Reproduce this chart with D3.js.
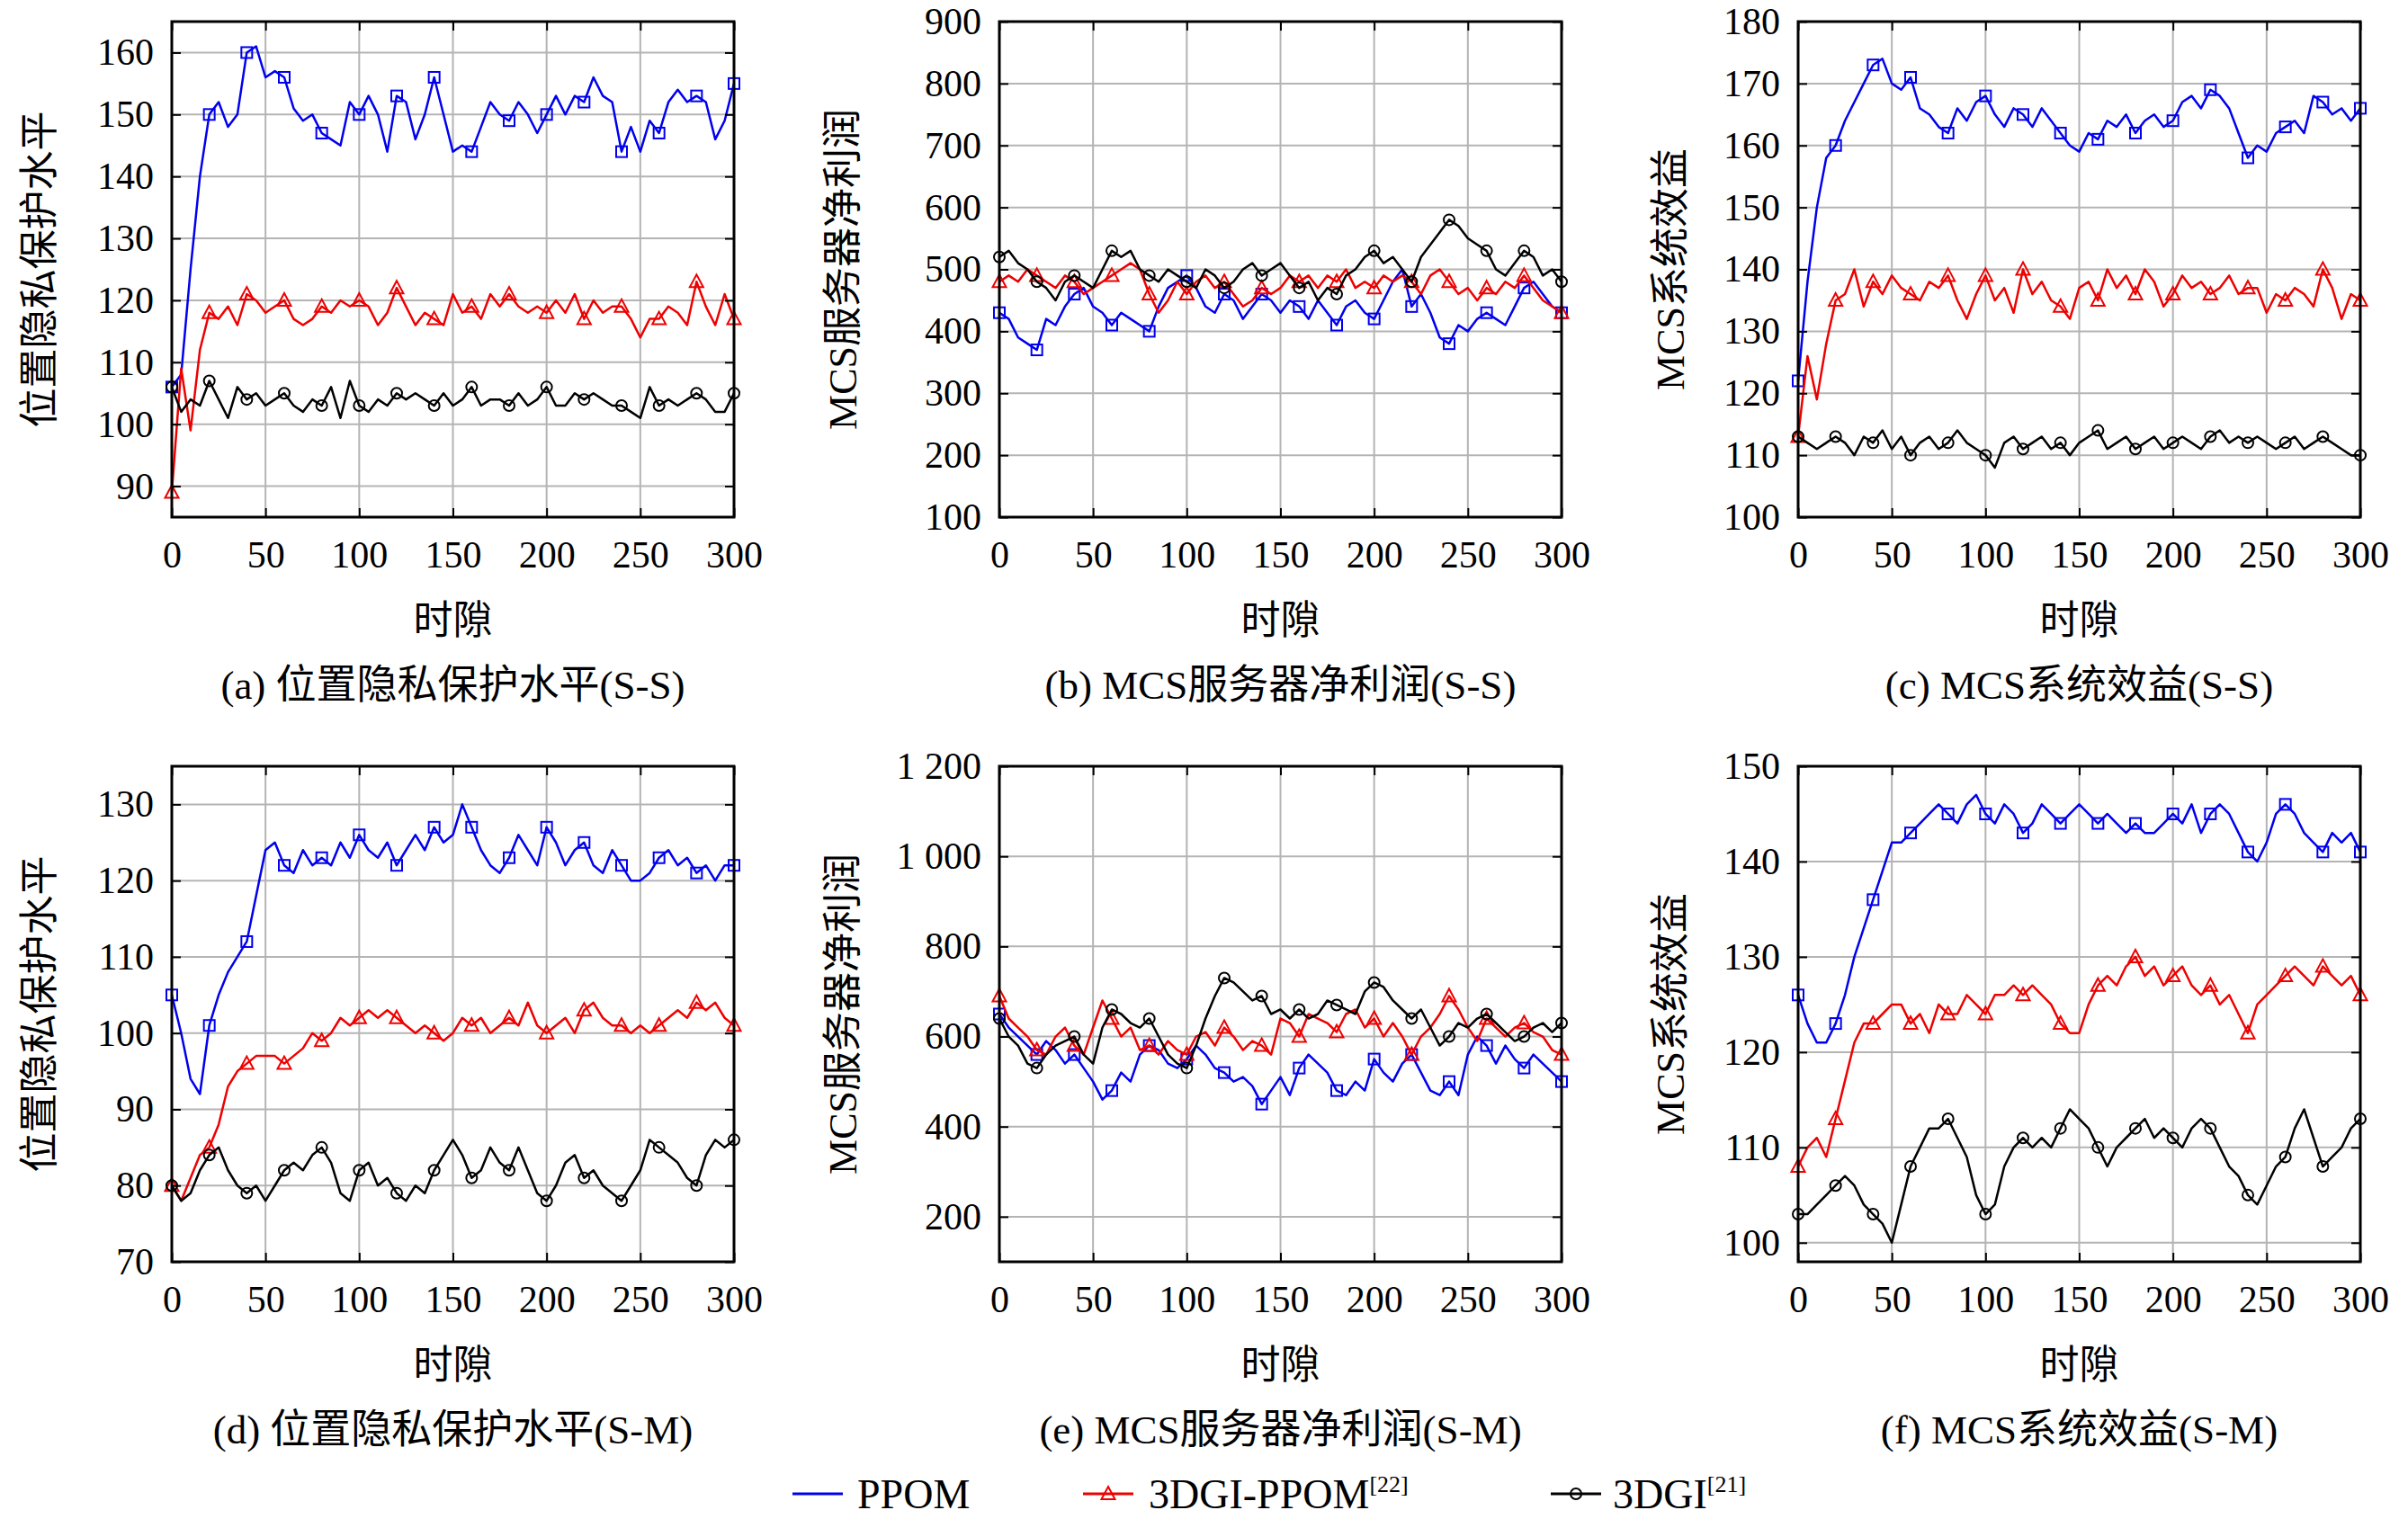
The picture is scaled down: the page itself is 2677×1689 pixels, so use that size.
<!DOCTYPE html>
<html><head><meta charset="utf-8">
<script src="https://cdn.jsdelivr.net/npm/d3@7"></script>
<style>body{margin:0;background:#fff}text{font-family:"Liberation Serif","Noto Sans CJK SC",serif;fill:#000}</style>
</head><body><div id="chart"></div>
<script>
// time slots sampled every 5
const slots = d3.range(0, 301, 5)

const aBlue = [106,108,125,140,150,152,148,150,160,161,156,157,156,151,149,150,147,146,145,152,150,153,150,144,153,152,146,150,156,150,144,145,144,148,152,150,149,152,150,147,150,153,150,153,152,156,153,152,144,148,144,149,147,152,154,152,153,152,146,149,155]
const aRed = [89,109,99,112,118,117,119,116,121,120,118,119,120,117,116,117,119,118,120,119,120,119,116,118,122,119,116,118,117,116,121,118,119,117,121,119,121,119,118,119,118,120,118,121,117,120,118,119,119,117,114,117,117,119,118,116,123,119,116,121,117]
const aBlack = [106,102,104,103,107,104,101,106,104,105,103,104,105,103,102,104,103,106,101,107,103,102,104,103,105,104,105,104,103,105,103,104,106,103,104,104,103,105,103,104,106,103,103,105,104,105,104,103,103,102,101,106,103,104,103,104,105,104,102,102,105]

const bBlue = [430,420,390,380,370,420,410,440,460,470,440,430,410,430,420,410,400,440,470,480,490,470,440,430,460,450,420,440,460,450,430,450,440,420,450,430,410,440,450,430,420,450,480,500,440,460,430,390,380,410,400,420,430,420,410,440,470,480,460,440,430]
const bRed = [480,490,480,500,490,480,470,490,480,460,470,480,490,500,510,500,460,430,450,480,460,480,490,470,480,460,440,450,470,460,470,490,480,490,470,490,480,500,470,480,470,490,480,490,480,460,490,500,480,460,470,450,470,460,480,470,490,470,450,440,430]
const bBlack = [520,530,510,500,480,470,450,480,490,480,470,500,530,520,530,500,490,480,500,490,480,470,500,490,470,480,500,510,490,500,510,490,470,480,450,470,460,490,500,520,530,510,520,500,480,520,540,560,580,570,550,540,530,500,490,510,530,520,490,500,480]

const cBlue = [122,138,150,158,160,164,167,170,173,174,170,169,171,166,165,163,162,166,164,167,168,165,163,166,165,163,166,164,162,160,159,162,161,164,163,165,162,164,165,163,164,167,168,166,169,168,166,162,158,160,159,162,163,164,162,168,167,165,166,164,166]
const cRed = [113,126,119,128,135,136,140,134,138,136,139,137,136,135,138,137,139,135,132,136,139,135,137,133,140,136,138,135,134,132,137,138,135,140,137,139,136,140,138,134,136,139,137,138,136,137,139,136,137,137,133,136,135,137,136,134,140,137,132,136,135]
const cBlack = [113,112,111,112,113,112,110,113,112,114,111,113,110,112,113,111,112,114,112,111,110,108,112,113,111,112,113,111,112,110,112,113,114,111,112,113,111,112,113,111,112,113,112,111,113,114,112,113,112,113,112,111,112,113,111,112,113,112,111,110,110]

const dBlue = [105,100,94,92,101,105,108,110,112,118,124,125,122,121,124,122,123,122,125,123,126,124,123,125,122,124,126,124,127,125,126,130,127,124,122,121,123,126,124,122,127,125,122,124,125,122,121,124,122,120,120,121,123,124,122,123,121,122,120,122,122]
const dRed = [80,78,81,84,85,88,93,95,96,97,97,97,96,97,98,100,99,100,102,101,102,103,102,103,102,101,100,101,100,99,100,102,101,102,100,101,102,101,104,101,100,101,102,100,103,104,102,101,101,100,101,100,101,102,103,102,104,103,104,102,101]
const dBlack = [80,78,79,82,84,85,82,80,79,80,78,80,82,83,82,84,85,83,79,78,82,83,80,81,79,78,80,79,82,84,86,84,81,82,85,83,82,85,82,79,78,80,83,84,81,82,80,79,78,80,82,86,85,84,83,81,80,84,86,85,86]

const eBlue = [650,620,600,580,560,590,570,540,560,530,500,460,480,520,500,560,580,570,540,530,550,580,560,530,520,500,510,490,450,480,510,470,530,560,540,520,480,470,500,480,550,520,500,540,560,520,480,470,500,470,560,600,580,540,580,550,530,560,540,520,500]
const eRed = [690,640,620,600,570,560,600,620,580,560,620,680,640,600,620,570,580,560,590,570,560,600,610,580,620,600,570,590,580,560,640,630,600,650,640,630,610,650,660,620,640,600,630,600,560,600,620,650,690,660,620,590,640,620,600,620,630,610,600,570,560]
const eBlack = [640,600,580,540,530,560,580,590,600,560,540,620,660,650,630,620,640,600,560,540,530,580,640,690,730,720,700,680,690,650,660,640,660,640,650,680,670,660,650,700,720,710,680,660,640,660,620,580,600,630,620,640,650,630,610,590,600,620,630,610,630]

const fBlue = [126,123,121,121,123,126,130,133,136,139,142,142,143,144,145,146,145,144,146,147,145,144,146,145,143,144,146,145,144,145,146,145,144,145,144,143,144,143,143,144,145,144,146,143,145,146,145,143,141,140,142,145,146,145,143,142,141,143,142,143,141]
const fRed = [108,110,111,109,113,117,121,123,123,124,125,125,123,124,122,125,124,124,126,125,124,126,126,127,126,127,126,125,123,122,122,125,127,128,127,129,130,128,129,127,128,129,127,126,127,125,126,124,122,125,126,127,128,129,128,127,129,128,127,128,126]
const fBlack = [103,103,104,105,106,107,106,104,103,102,100,104,108,110,112,112,113,111,109,105,103,104,108,110,111,110,111,110,112,114,113,112,110,108,110,111,112,113,111,112,111,110,112,113,112,110,108,107,105,104,106,108,109,112,114,111,108,109,110,112,113]

const xTicks = [0,50,100,150,200,250,300]
const markerSlots = d3.range(0, 301, 20)
const seriesNames = ['PPOM', '3DGI-PPOM', '3DGI']
const seriesRefs = ['', '[22]', '[21]']
const colors = ['#0000ee', '#ee0000', '#000000']

const panels = [
  {id:'a', ylab:'位置隐私保护水平', cap:'(a) 位置隐私保护水平(S-S)', dom:[85,165], ticks:d3.range(90,161,10), data:[aBlue,aRed,aBlack], col:0, row:0},
  {id:'b', ylab:'MCS服务器净利润', cap:'(b) MCS服务器净利润(S-S)', dom:[100,900], ticks:d3.range(100,901,100), data:[bBlue,bRed,bBlack], col:1, row:0},
  {id:'c', ylab:'MCS系统效益', cap:'(c) MCS系统效益(S-S)', dom:[100,180], ticks:d3.range(100,181,10), data:[cBlue,cRed,cBlack], col:2, row:0},
  {id:'d', ylab:'位置隐私保护水平', cap:'(d) 位置隐私保护水平(S-M)', dom:[70,135], ticks:d3.range(70,131,10), data:[dBlue,dRed,dBlack], col:0, row:1},
  {id:'e', ylab:'MCS服务器净利润', cap:'(e) MCS服务器净利润(S-M)', dom:[100,1200], ticks:d3.range(200,1201,200), data:[eBlue,eRed,eBlack], col:1, row:1},
  {id:'f', ylab:'MCS系统效益', cap:'(f) MCS系统效益(S-M)', dom:[98,150], ticks:d3.range(100,151,10), data:[fBlue,fRed,fBlack], col:2, row:1}
]

const W = 2677, H = 1689
const colX = [191, 1111, 1999], pw = 625
const rowY = [24, 852], ph = 551
const ylabX = [43, 936, 1856]
const fmt = v => v >= 1000 ? d3.format(',')(v).replace(',', ' ') : String(v)

const svg = d3.select('#chart').append('svg').attr('width', W).attr('height', H)

function marker(g, type, x, y, c) {
  if (type === 0) g.append('rect').attr('x', x-6).attr('y', y-6).attr('width', 12).attr('height', 12)
    .attr('fill', 'none').attr('stroke', c).attr('stroke-width', 2)
  else if (type === 1) g.append('path').attr('d', `M${x},${y-8}L${x+7.5},${y+6}L${x-7.5},${y+6}Z`)
    .attr('fill', 'none').attr('stroke', c).attr('stroke-width', 2)
  else g.append('circle').attr('cx', x).attr('cy', y).attr('r', 6)
    .attr('fill', 'none').attr('stroke', c).attr('stroke-width', 2)
}

panels.forEach(p => {
  const ox = colX[p.col], oy = rowY[p.row]
  const g = svg.append('g').attr('transform', `translate(${ox},${oy})`)
  const x = d3.scaleLinear().domain([0, 300]).range([0, pw])
  const y = d3.scaleLinear().domain(p.dom).range([ph, 0])

  // grid
  g.append('g').selectAll('line').data(xTicks).join('line')
    .attr('x1', d => x(d)).attr('x2', d => x(d)).attr('y1', 0).attr('y2', ph)
    .attr('stroke', '#b4b4b4').attr('stroke-width', 2)
  g.append('g').selectAll('line').data(p.ticks).join('line')
    .attr('y1', d => y(d)).attr('y2', d => y(d)).attr('x1', 0).attr('x2', pw)
    .attr('stroke', '#b4b4b4').attr('stroke-width', 2)

  // lines
  const line = d3.line().x((d, i) => x(slots[i])).y(d => y(d))
  p.data.forEach((s, k) => {
    g.append('path').datum(s).attr('d', line).attr('fill', 'none')
      .attr('stroke', colors[k]).attr('stroke-width', 2.5).attr('stroke-linejoin', 'round')
    markerSlots.forEach(m => marker(g, k, x(m), y(s[m / 5]), colors[k]))
  })

  // axes with inward ticks, mirrored
  const ax = (gen, tr) => g.append('g').attr('transform', tr).call(gen)
    .call(a => a.select('.domain').remove())
    .call(a => a.selectAll('line').attr('stroke', '#000').attr('stroke-width', 2))
  const bx = ax(d3.axisBottom(x).tickValues(xTicks).tickSize(-10).tickPadding(26), `translate(0,${ph})`)
  bx.selectAll('text').attr('font-size', 42).attr('dy', '0.71em')
  ax(d3.axisTop(x).tickValues(xTicks).tickSize(-10).tickFormat(''), 'translate(0,0)')
  const ly = ax(d3.axisLeft(y).tickValues(p.ticks).tickSize(-10).tickPadding(20).tickFormat(fmt), 'translate(0,0)')
  ly.selectAll('text').attr('font-size', 42)
  ax(d3.axisRight(y).tickValues(p.ticks).tickSize(-10).tickFormat(''), `translate(${pw},0)`)
  g.append('rect').attr('width', pw).attr('height', ph).attr('fill', 'none').attr('stroke', '#000').attr('stroke-width', 3)

  g.append('text').attr('x', pw / 2).attr('y', ph + 130).attr('text-anchor', 'middle')
    .attr('font-size', 44).text('时隙')
  g.append('text').attr('x', pw / 2).attr('y', ph + 202).attr('text-anchor', 'middle')
    .attr('font-size', 45).text(p.cap)
  g.append('text').attr('transform', `translate(${ylabX[p.col] - ox + 16},${ph / 2}) rotate(-90)`)
    .attr('text-anchor', 'middle').attr('font-size', 44).text(p.ylab)
})

// legend
const legX = [[881, 953], [1204, 1277], [1724, 1793]]
const ly0 = 1661
seriesNames.forEach((n, k) => {
  svg.append('line').attr('x1', legX[k][0]).attr('x2', legX[k][0] + 56).attr('y1', ly0).attr('y2', ly0)
    .attr('stroke', colors[k]).attr('stroke-width', 3)
  if (k > 0) marker(svg, k, legX[k][0] + 28, ly0, colors[k])
  const t = svg.append('text').attr('x', legX[k][1]).attr('y', ly0 + 16).attr('font-size', 46).text(n)
  if (seriesRefs[k]) t.append('tspan').attr('font-size', 26).attr('dy', -18).text(seriesRefs[k])
})
</script></body></html>
